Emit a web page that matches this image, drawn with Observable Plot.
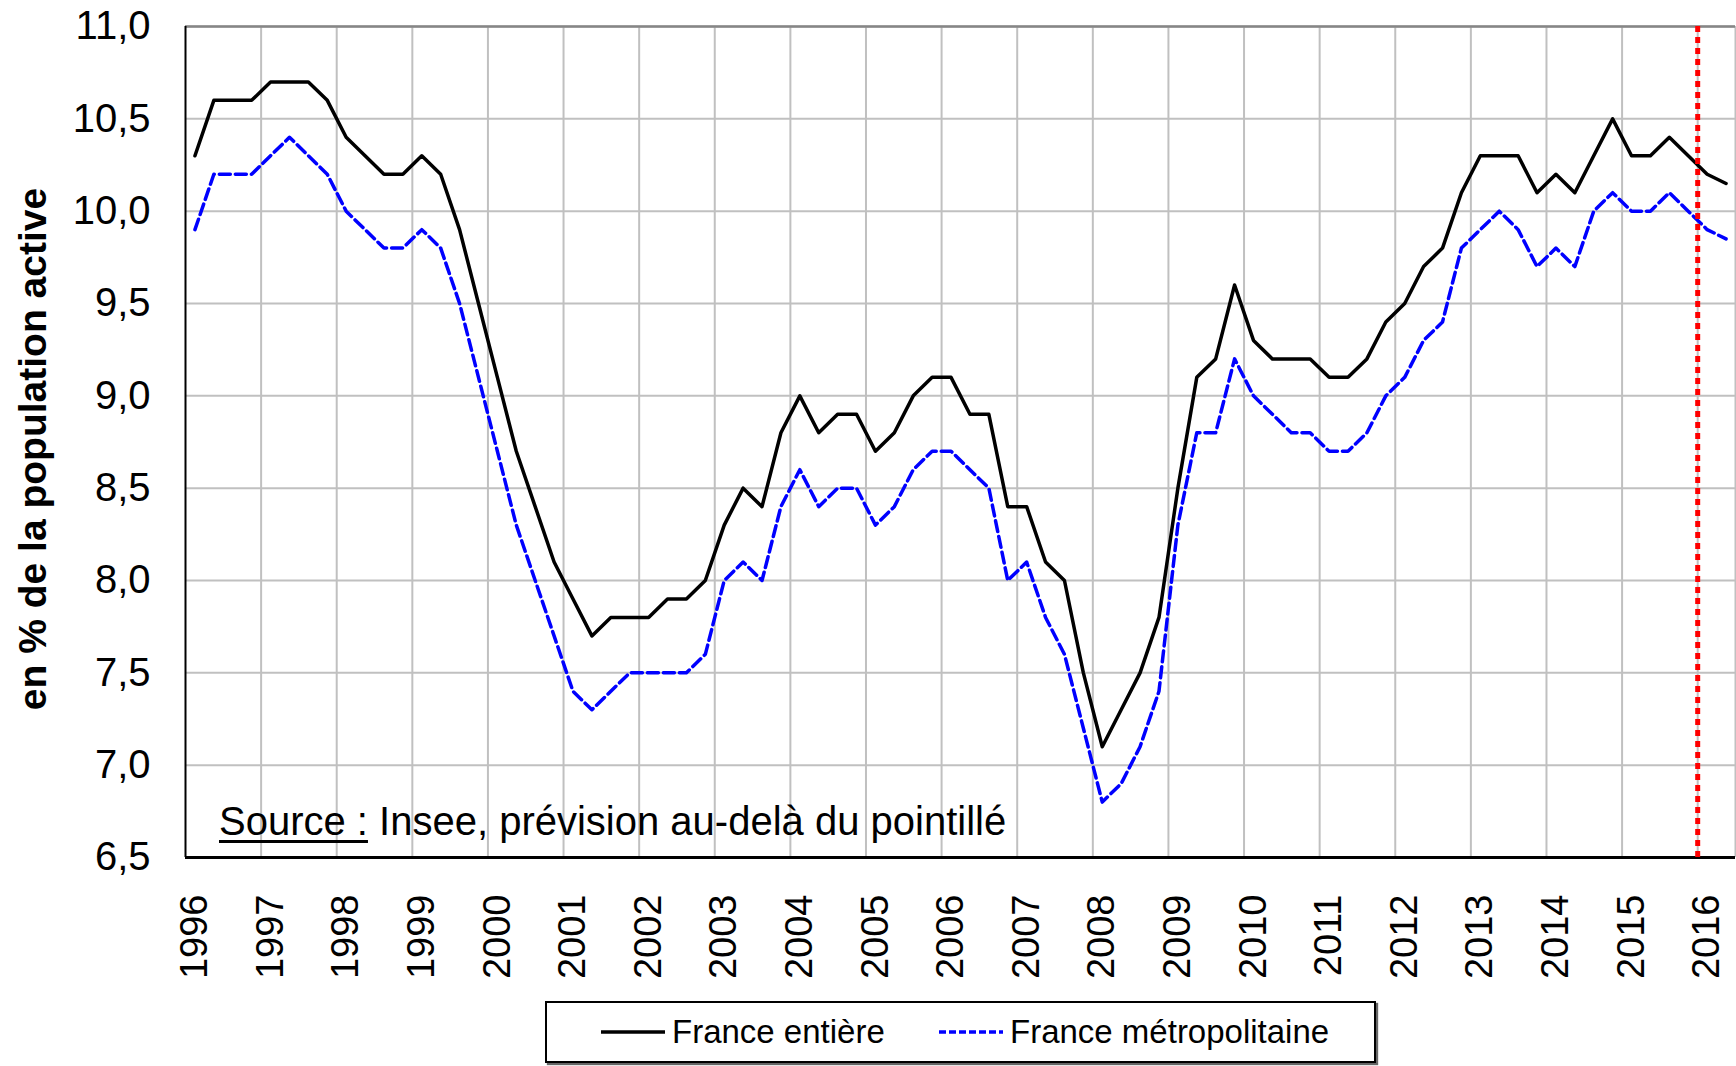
<!DOCTYPE html>
<html>
<head>
<meta charset="utf-8">
<script src="https://cdn.jsdelivr.net/npm/d3@7"></script>
<script src="https://cdn.jsdelivr.net/npm/@observablehq/plot@0.6"></script>
<style>
  body { margin: 0; background: #fff; }
  #wrap { position: relative; width: 1736px; height: 1066px; overflow: hidden;
          font-family: "Liberation Sans", Arial, sans-serif; color: #000; background: #fff; }
  #chart { position: absolute; left: 0; top: 0; }
  #source { position: absolute; left: 219px; top: 801px; font-size: 40px; line-height: 40px; white-space: nowrap; }
  #source u { text-decoration-thickness: 3px; text-underline-offset: 5px; }
  #legend { position: absolute; left: 545px; top: 1001px; width: 831px; height: 62px; box-sizing: border-box;
            border: 2px solid #000; box-shadow: 2px 2px 1px #666; background: #fff; }
  .lg-item { position: absolute; top: 0; height: 58px; display: flex; align-items: center; font-size: 33px; white-space: nowrap; }
  .lg-item svg { margin-right: 7px; }
</style>
</head>
<body>
<div id="wrap">
  <div id="chart"></div>
  <div id="source"><u>Source :</u> Insee, prévision au-delà du pointillé</div>
  <div id="legend"></div>
</div>
<script>
// ---- Data (taux de chômage trimestriel, en % de la population active) ----
const years = [1996, 1997, 1998, 1999, 2000, 2001, 2002, 2003, 2004, 2005, 2006,
               2007, 2008, 2009, 2010, 2011, 2012, 2013, 2014, 2015, 2016];
const quartersPerYear = 4;
const seriesNames = ["France entière", "France métropolitaine"];

const franceEntiere = [
  10.3, 10.6, 10.6, 10.6,   // 1996
  10.7, 10.7, 10.7, 10.6,   // 1997
  10.4, 10.3, 10.2, 10.2,   // 1998
  10.3, 10.2, 9.9, 9.5,     // 1999
  9.1, 8.7, 8.4, 8.1,       // 2000
  7.9, 7.7, 7.8, 7.8,       // 2001
  7.8, 7.9, 7.9, 8.0,       // 2002
  8.3, 8.5, 8.4, 8.8,       // 2003
  9.0, 8.8, 8.9, 8.9,       // 2004
  8.7, 8.8, 9.0, 9.1,       // 2005
  9.1, 8.9, 8.9, 8.4,       // 2006
  8.4, 8.1, 8.0, 7.5,       // 2007
  7.1, 7.3, 7.5, 7.8,       // 2008
  8.5, 9.1, 9.2, 9.6,       // 2009
  9.3, 9.2, 9.2, 9.2,       // 2010
  9.1, 9.1, 9.2, 9.4,       // 2011
  9.5, 9.7, 9.8, 10.1,      // 2012
  10.3, 10.3, 10.3, 10.1,   // 2013
  10.2, 10.1, 10.3, 10.5,   // 2014
  10.3, 10.3, 10.4, 10.3,   // 2015
  10.2, 10.15               // 2016 (prévision)
];

const franceMetropolitaine = [
  9.9, 10.2, 10.2, 10.2,    // 1996
  10.3, 10.4, 10.3, 10.2,   // 1997
  10.0, 9.9, 9.8, 9.8,      // 1998
  9.9, 9.8, 9.5, 9.1,       // 1999
  8.7, 8.3, 8.0, 7.7,       // 2000
  7.4, 7.3, 7.4, 7.5,       // 2001
  7.5, 7.5, 7.5, 7.6,       // 2002
  8.0, 8.1, 8.0, 8.4,       // 2003
  8.6, 8.4, 8.5, 8.5,       // 2004
  8.3, 8.4, 8.6, 8.7,       // 2005
  8.7, 8.6, 8.5, 8.0,       // 2006
  8.1, 7.8, 7.6, 7.2,       // 2007
  6.8, 6.9, 7.1, 7.4,       // 2008
  8.3, 8.8, 8.8, 9.2,       // 2009
  9.0, 8.9, 8.8, 8.8,       // 2010
  8.7, 8.7, 8.8, 9.0,       // 2011
  9.1, 9.3, 9.4, 9.8,       // 2012
  9.9, 10.0, 9.9, 9.7,      // 2013
  9.8, 9.7, 10.0, 10.1,     // 2014
  10.0, 10.0, 10.1, 10.0,   // 2015
  9.9, 9.85                 // 2016 (prévision)
];

const yTicks = [6.5, 7.0, 7.5, 8.0, 8.5, 9.0, 9.5, 10.0, 10.5, 11.0];
const forecastStartYear = 2016;   // prévision au-delà du pointillé
const yTitle = "en % de la population active";

// ---- Build table: one row per quarter, x = centre of the quarter in years ----
const startYear = years[0];
const rows = franceEntiere.map((v, i) => ({
  t: startYear + (i % quartersPerYear + 0.5) / quartersPerYear + Math.floor(i / quartersPerYear),
  entiere: v,
  metro: franceMetropolitaine[i]
}));
const xEnd = startYear + franceEntiere.length / quartersPerYear;          // right edge of the last quarter
const gridYears = years.slice(1).concat([xEnd]);                        // year boundaries
const labelPos = years.map(y => y + 0.5 / quartersPerYear);              // labels on first quarter

const fmt = d => d.toFixed(1).replace(".", ",");
const FONT = "Liberation Sans, Arial, sans-serif";

const chart = Plot.plot({
  width: 1736,
  height: 1000,
  marginLeft: 185,
  marginRight: 1,
  marginTop: 26,
  marginBottom: 143,
  style: { fontFamily: FONT, color: "#000", background: "transparent", overflow: "visible" },
  x: { domain: [startYear, xEnd] },
  y: { domain: [yTicks[0], yTicks[yTicks.length - 1]] },
  marks: [
    Plot.gridY(yTicks, { stroke: "#c0c0c0", strokeOpacity: 1, strokeWidth: 2 }),
    Plot.gridX(gridYears, { stroke: "#c0c0c0", strokeOpacity: 1, strokeWidth: 2 }),
    Plot.ruleY([yTicks[yTicks.length - 1]], { stroke: "#868686", strokeWidth: 2.5 }),
    Plot.ruleX([startYear], { stroke: "#000", strokeWidth: 2 }),
    Plot.ruleY([yTicks[0]], { stroke: "#000", strokeWidth: 3 }),
    Plot.lineY(rows, { x: "t", y: "metro", stroke: "#0000ff", strokeWidth: 3.5, strokeDasharray: "11,5" }),
    Plot.lineY(rows, { x: "t", y: "entiere", stroke: "#000", strokeWidth: 3.5 }),
    Plot.ruleX([forecastStartYear], { y1: yTicks[0], y2: 11.02, stroke: "#ff0000", strokeWidth: 5, strokeDasharray: "6,5" }),
    Plot.axisY(yTicks, { tickSize: 0, tickPadding: 35, fontSize: 40, tickFormat: fmt, label: null }),
    Plot.axisX(labelPos, { tickSize: 0, tickPadding: 37, tickRotate: -90, fontSize: 38,
                           tickFormat: d => String(Math.floor(d)), label: null }),
    Plot.text([yTitle], { frameAnchor: "left", rotate: -90, dx: -152, dy: 7, textAnchor: "middle",
                          fontSize: 39, fontWeight: "bold", fill: "#000" })
  ]
});
document.getElementById("chart").appendChild(chart);

// ---- Legend (below the chart) ----
const legend = document.getElementById("legend");
const items = [
  { name: seriesNames[0], color: "#000", dash: null, left: 54 },
  { name: seriesNames[1], color: "#0000ff", dash: "7,3", left: 392 }
];
for (const it of items) {
  const div = document.createElement("div");
  div.className = "lg-item";
  div.style.left = it.left + "px";
  div.innerHTML = `<svg width="64" height="10"><line x1="0" x2="64" y1="5" y2="5" stroke="${it.color}" stroke-width="3.3" ${it.dash ? `stroke-dasharray="${it.dash}"` : ""}/></svg><span>${it.name}</span>`;
  legend.appendChild(div);
}
</script>
</body>
</html>
